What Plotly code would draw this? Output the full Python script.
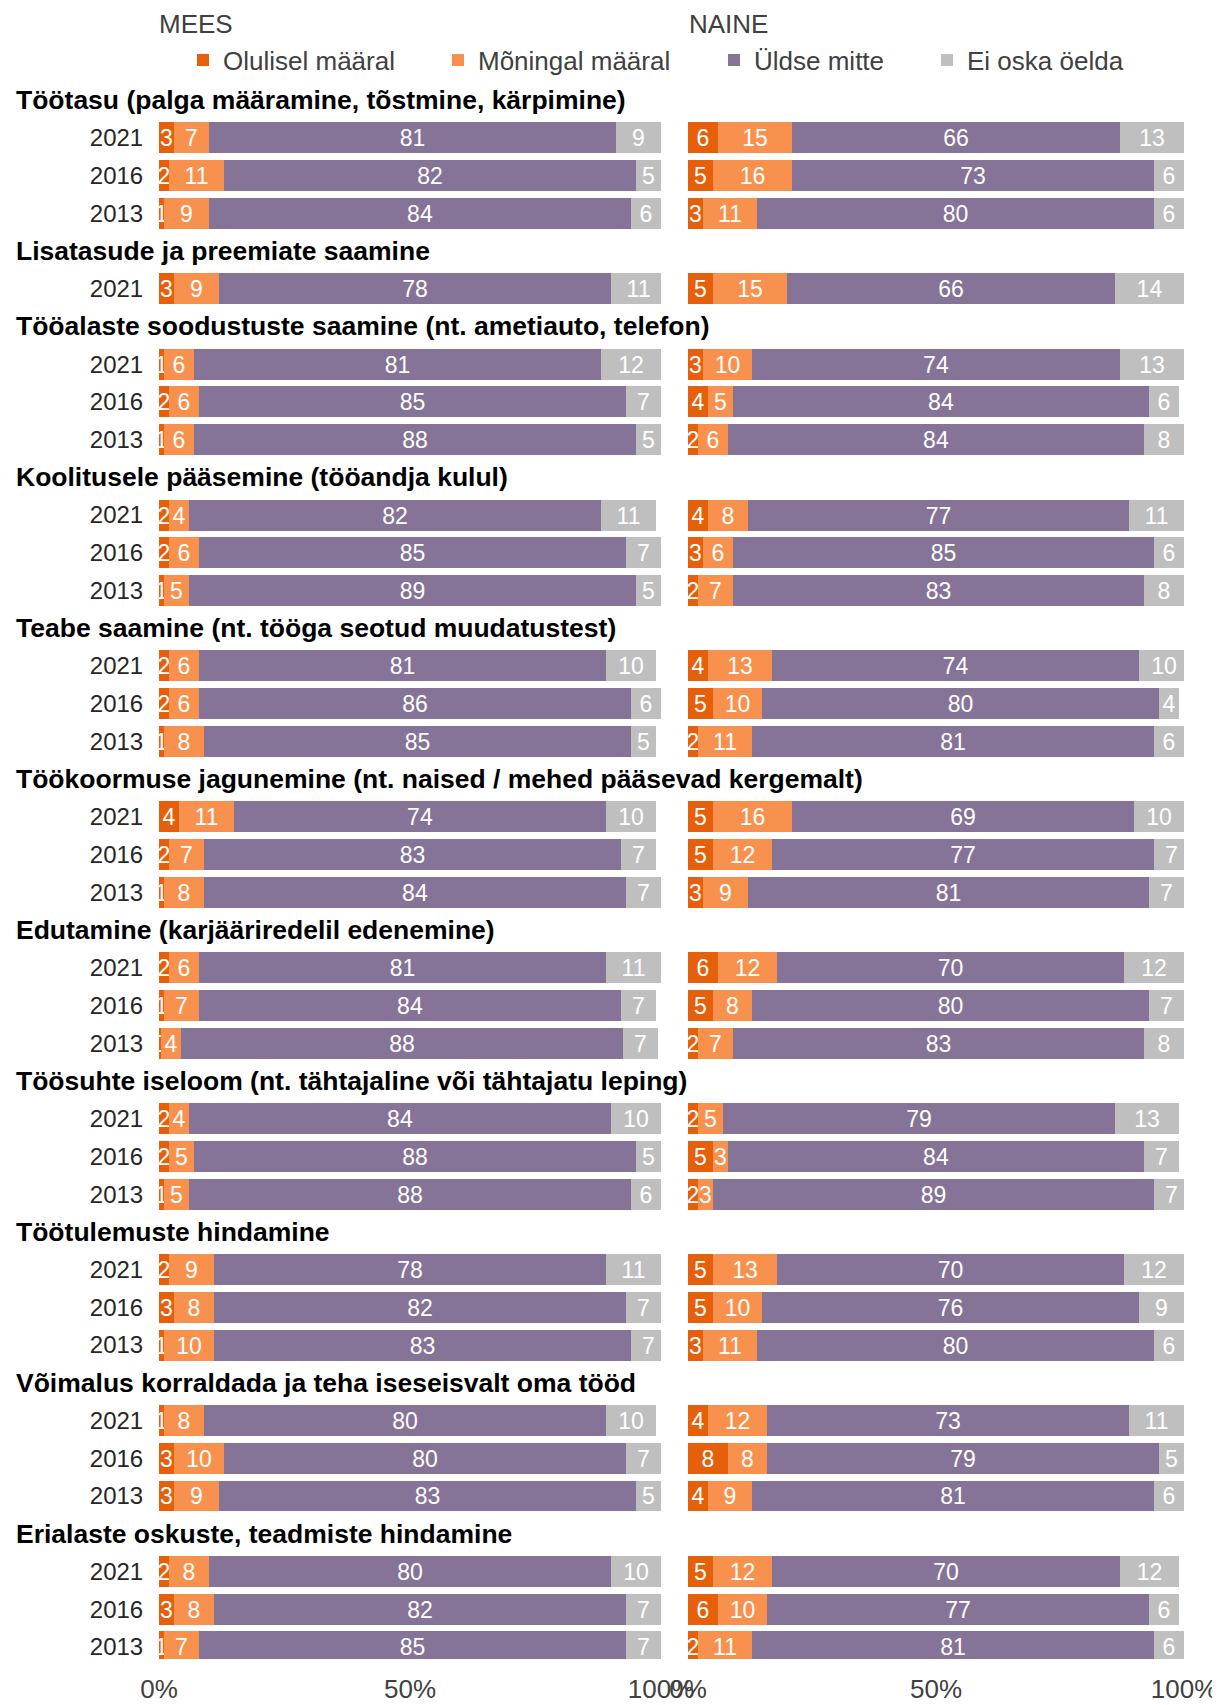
import plotly.graph_objects as go

categories = [
    "Töötasu (palga määramine, tõstmine, kärpimine)",
    "Lisatasude ja preemiate saamine",
    "Tööalaste soodustuste saamine (nt. ametiauto, telefon)",
    "Koolitusele pääsemine (tööandja kulul)",
    "Teabe saamine (nt. tööga seotud muudatustest)",
    "Töökoormuse jagunemine (nt. naised / mehed pääsevad kergemalt)",
    "Edutamine (karjääriredelil edenemine)",
    "Töösuhte iseloom (nt. tähtajaline või tähtajatu leping)",
    "Töötulemuste hindamine",
    "Võimalus korraldada ja teha iseseisvalt oma tööd",
    "Erialaste oskuste, teadmiste hindamine",
]
years = [
    ["2021", "2016", "2013"],
    ["2021"],
    ["2021", "2016", "2013"],
    ["2021", "2016", "2013"],
    ["2021", "2016", "2013"],
    ["2021", "2016", "2013"],
    ["2021", "2016", "2013"],
    ["2021", "2016", "2013"],
    ["2021", "2016", "2013"],
    ["2021", "2016", "2013"],
    ["2021", "2016", "2013"],
]

series_names = ["Olulisel määral", "Mõningal määral", "Üldse mitte", "Ei oska öelda"]
series_colors = ["#E65F0B", "#F8914D", "#857497", "#BFBFBF"]

# MEES (rows in order of categories/years)
mees_olulisel = [3, 2, 1, 3, 1, 2, 1, 2, 2, 1, 2, 2, 1, 4, 2, 1, 2, 1, 0.4, 2, 2, 1, 2, 3, 1, 1, 3, 3, 2, 3, 1]
mees_moningal = [7, 11, 9, 9, 6, 6, 6, 4, 6, 5, 6, 6, 8, 11, 7, 8, 6, 7, 4, 4, 5, 5, 9, 8, 10, 8, 10, 9, 8, 8, 7]
mees_uldse = [81, 82, 84, 78, 81, 85, 88, 82, 85, 89, 81, 86, 85, 74, 83, 84, 81, 84, 88, 84, 88, 88, 78, 82, 83, 80, 80, 83, 80, 82, 85]
mees_eioska = [9, 5, 6, 11, 12, 7, 5, 11, 7, 5, 10, 6, 5, 10, 7, 7, 11, 7, 7, 10, 5, 6, 11, 7, 7, 10, 7, 5, 10, 7, 7]

# NAINE
naine_olulisel = [6, 5, 3, 5, 3, 4, 2, 4, 3, 2, 4, 5, 2, 5, 5, 3, 6, 5, 2, 2, 5, 2, 5, 5, 3, 4, 8, 4, 5, 6, 2]
naine_moningal = [15, 16, 11, 15, 10, 5, 6, 8, 6, 7, 13, 10, 11, 16, 12, 9, 12, 8, 7, 5, 3, 3, 13, 10, 11, 12, 8, 9, 12, 10, 11]
naine_uldse = [66, 73, 80, 66, 74, 84, 84, 77, 85, 83, 74, 80, 81, 69, 77, 81, 70, 80, 83, 79, 84, 89, 70, 76, 80, 73, 79, 81, 70, 77, 81]
naine_eioska = [13, 6, 6, 14, 13, 6, 8, 11, 6, 8, 10, 4, 6, 10, 7, 7, 12, 7, 8, 13, 7, 7, 12, 9, 6, 11, 5, 6, 12, 6, 6]

x_tickvals = [0, 50, 100]
x_ticktext = ["0%", "50%", "100%"]

# slot layout: heading slot then one slot per year row
heading_pos = []
row_pos = []
row_labels = []
slot = 0
for cat, yrs in zip(categories, years):
    heading_pos.append(slot)
    slot += 1
    for y in yrs:
        row_pos.append(slot)
        row_labels.append(y)
        slot += 1

FONT = "Liberation Sans, Arial, sans-serif"
OFF = 8  # page body margin
W, H = 1220 - OFF, 1705 - OFF
MB = 46
PH = H - MB
pitch = 37.73
top_px = 100.0 - OFF
y_top = -top_px / pitch
y_bot = (PH - top_px) / pitch


def px(x):
    return (x - OFF) / W


legend_names = ["legend", "legend2", "legend3", "legend4"]
legend_x = [183, 438, 714, 927]

fig = go.Figure()
mees = [mees_olulisel, mees_moningal, mees_uldse, mees_eioska]
naine = [naine_olulisel, naine_moningal, naine_uldse, naine_eioska]
for gi, (gdata, xa) in enumerate([(mees, "x"), (naine, "x2")]):
    for si, vals in enumerate(gdata):
        fig.add_trace(go.Bar(
            x=vals, y=row_pos, orientation="h",
            name=series_names[si],
            legendgroup=series_names[si],
            legend=legend_names[si],
            showlegend=(gi == 0),
            marker=dict(color=series_colors[si], line=dict(width=0)),
            width=0.82,
            text=vals,
            texttemplate="%{x:.0f}",
            textposition="inside",
            insidetextanchor="middle",
            textangle=0,
            textfont=dict(color="white", size=23, family=FONT),
            xaxis=xa, yaxis="y",
            hoverinfo="skip",
        ))

annotations = []
for cat, hp in zip(categories, heading_pos):
    annotations.append(dict(
        text="<b>" + cat + "</b>", x=px(14), xref="paper", xanchor="left",
        y=hp, yref="y", yanchor="middle", showarrow=False,
        font=dict(size=26.5, color="#000000", family=FONT),
    ))
for label, xpos in [("MEES", 157), ("NAINE", 687)]:
    annotations.append(dict(
        text=label, x=px(xpos), xref="paper", xanchor="left",
        y=1 - (24 - OFF) / PH, yref="paper", yanchor="middle", showarrow=False,
        font=dict(size=26, color="#404040", family=FONT),
    ))

axis_common = dict(
    range=[0, 100], tickvals=x_tickvals, ticktext=x_ticktext,
    showgrid=False, zeroline=False, showline=False,
    ticks="outside", ticklen=7, tickcolor="rgba(0,0,0,0)",
    tickfont=dict(size=26, color="#404040", family=FONT),
    fixedrange=True, automargin=False,
)
legend_common = dict(
    orientation="h", xanchor="left", y=1 - (60 - OFF) / PH, yanchor="middle",
    font=dict(size=26, color="#404040", family=FONT),
    itemwidth=30, bgcolor="rgba(0,0,0,0)",
)
layout_legends = {
    ln: dict(x=px(lx), **legend_common) for ln, lx in zip(legend_names, legend_x)
}
fig.update_layout(
    width=W, height=H,
    margin=dict(l=0, r=0, t=0, b=MB, autoexpand=False),
    plot_bgcolor="white", paper_bgcolor="white",
    barmode="stack",
    bargap=0,
    xaxis=dict(domain=[px(159), px(661)], anchor="y", **axis_common),
    xaxis2=dict(domain=[px(688), px(1184)], anchor="y", **axis_common),
    yaxis=dict(
        range=[y_bot, y_top], tickvals=row_pos, ticktext=row_labels,
        showgrid=False, zeroline=False, showline=False,
        ticks="outside", ticklen=10, tickcolor="rgba(0,0,0,0)",
        tickfont=dict(size=24, color="#262626", family=FONT),
        fixedrange=True, automargin=False,
    ),
    uniformtext=dict(minsize=23, mode="show"),
    annotations=annotations,
    showlegend=True,
    **layout_legends,
)
fig.write_html("out.html")
